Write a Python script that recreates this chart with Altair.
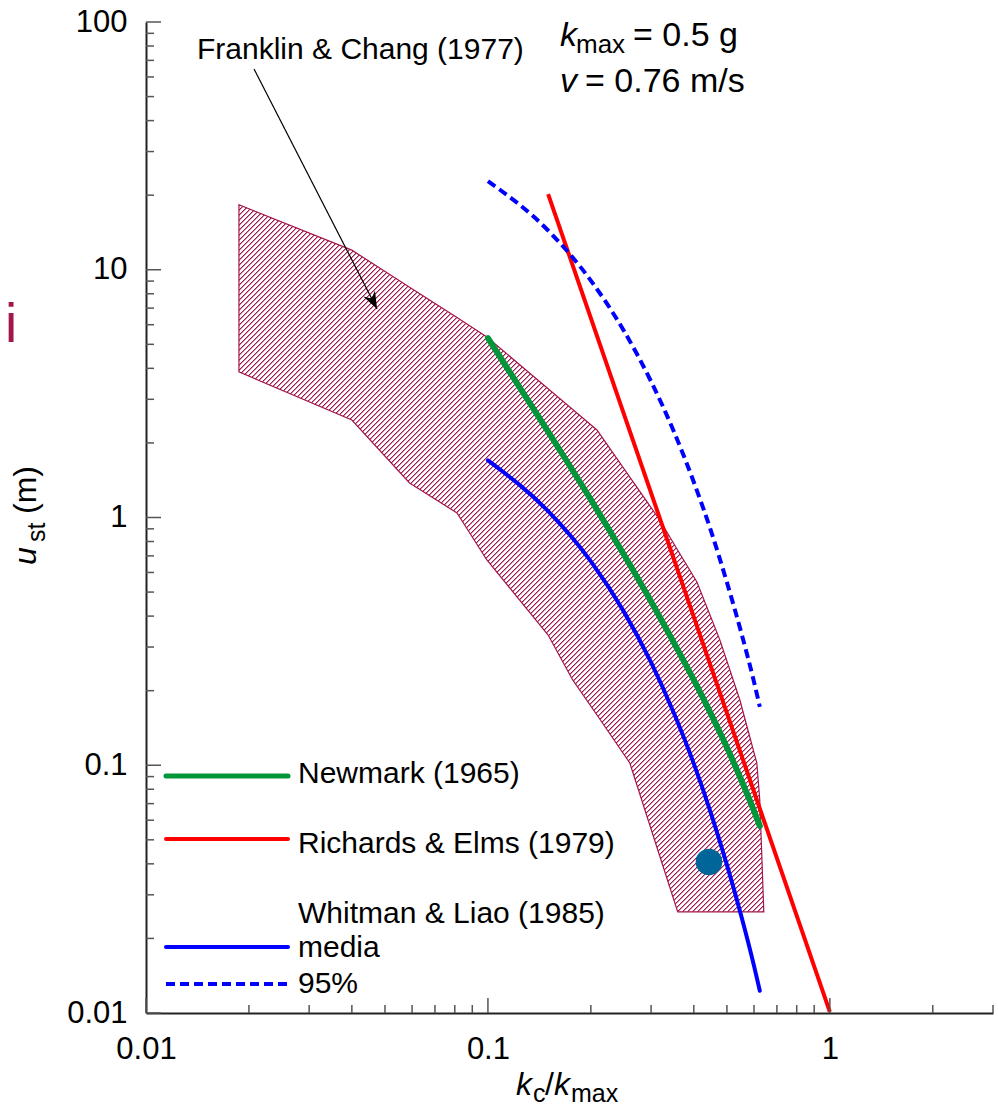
import math
import altair as alt
import pandas as pd

# ---------------- data ----------------
# Franklin & Chang (1977) band (upper and lower boundaries)
band_kc = [0.0187, 0.040, 0.059, 0.0812, 0.0993, 0.150, 0.177, 0.2084, 0.260,
           0.318, 0.359, 0.4085, 0.477, 0.5455, 0.6115, 0.6238, 0.641]
band_top = [18.3, 12.0, 8.5, 6.41, 5.35, 3.31, 2.73, 2.255, 1.456,
            0.977, 0.738, 0.549, 0.320, 0.1834, 0.1021, 0.0724, 0.0256]
band_bot = [3.87, 2.475, 1.378, 1.043, 0.674, 0.3355, 0.221, 0.1595, 0.1021,
            0.043, 0.0256, 0.0256, 0.0256, 0.0256, 0.0256, 0.0256, 0.0256]

curve_kc = [0.1, 0.15, 0.2, 0.25, 0.3, 0.35, 0.4, 0.45, 0.5, 0.55, 0.6, 0.624]
newmark_u = [5.30, 2.22, 1.18, 0.707, 0.458, 0.312, 0.221, 0.160, 0.118, 0.0876, 0.0654, 0.0569]
wl_median_u = [1.70, 1.06, 0.665, 0.416, 0.260, 0.162, 0.1015, 0.0634, 0.0396, 0.0248, 0.0155, 0.0123]
wl_95_u = [22.8, 14.4, 9.04, 5.66, 3.54, 2.22, 1.39, 0.875, 0.547, 0.345, 0.217, 0.172]

re_kc = [0.15, 1.0]
re_u = [20.2, 0.0101]

obs_kc = [0.443]
obs_u = [0.0407]

arrow_kc = [0.0207, 0.0474]
arrow_u = [64.6, 6.94]
arrow_end = ["start", "tip"]

# axis ticks / labels
x_major = [0.01, 0.1, 1]
x_minor = [0.02, 0.03, 0.04, 0.05, 0.06, 0.07, 0.08, 0.09,
           0.2, 0.3, 0.4, 0.5, 0.6, 0.7, 0.8, 0.9, 2, 3]
y_major = [0.01, 0.1, 1, 10, 100]
y_minor = [0.02, 0.03, 0.04, 0.05, 0.06, 0.07, 0.08, 0.09,
           0.2, 0.3, 0.4, 0.5, 0.6, 0.7, 0.8, 0.9,
           2, 3, 4, 5, 6, 7, 8, 9, 20, 30, 40, 50, 60, 70, 80, 90]

legend_labels = ["Newmark (1965)", "Richards & Elms (1979)", "Whitman & Liao (1985)", "media", "95%"]

# ---------------- styling ----------------
FONT = "Liberation Sans"
CRIMSON = "#A3154B"
CRIMSON_SOFT = "#D68AA6"
GREEN = "#009639"
RED = "#FF0000"
BLUE = "#0000FF"
DOT = "#006699"
W, H = 847, 991
X_DOM = [0.01, 3]
Y_DOM = [0.01, 100]

# ---- diagonal hatch as a striped linear gradient aligned to the pixel grid ----
# gradient runs in bounding-box units; chosen so that t = (X + Y - x0 - y0) / (bw + bh)
def _px(v, dom, size):
    return size * math.log10(v / dom[0]) / math.log10(dom[1] / dom[0])

bw = _px(max(band_kc), X_DOM, W) - _px(min(band_kc), X_DOM, W)
bh = _px(max(band_top), Y_DOM, H) - _px(min(band_bot), Y_DOM, H)
D = bw + bh
s = D / (bw ** 2 + bh ** 2)
PERIOD = 5.0
# (width in x+y pixel units, colour) segments of one hatch period
SEGMENTS = [(1.0, CRIMSON), (1.0, CRIMSON_SOFT), (3.0, "#ffffff")]
stops = []
k = 0
while PERIOD * k / D < 1:
    pos = PERIOD * k
    for w_seg, col in SEGMENTS:
        a = min(pos / D, 1)
        b = min((pos + w_seg) / D, 1)
        stops += [{"offset": round(a, 7), "color": col}, {"offset": round(b, 7), "color": col}]
        pos += w_seg
    k += 1
hatch = {"gradient": "linear", "x1": 0, "y1": 0,
         "x2": round(bw * s, 6), "y2": round(bh * s, 6), "stops": stops}

xs = alt.Scale(type="log", domain=X_DOM, nice=False)
ys = alt.Scale(type="log", domain=Y_DOM, nice=False)

xaxis = alt.Axis(values=x_major, format="~g", title=None, ticks=False, grid=False,
                 domainColor="#222222", domainWidth=2, labelFont=FONT, labelFontSize=31,
                 labelColor="black", labelPadding=21, labelFlush=False, labelOverlap=False)
yaxis = alt.Axis(values=y_major, format="~g", title=None, ticks=False, grid=False,
                 domainColor="#222222", domainWidth=2, labelFont=FONT, labelFontSize=31,
                 labelColor="black", labelPadding=19, labelFlush=False, labelOverlap=False)


def X(f):
    return alt.X(f, type="quantitative", scale=xs, axis=xaxis)


def Y(f):
    return alt.Y(f, type="quantitative", scale=ys, axis=yaxis)


band_df = pd.DataFrame({"kc": band_kc, "top": band_top, "bot": band_bot})
curves_df = pd.DataFrame({"kc": curve_kc, "newmark": newmark_u,
                          "median": wl_median_u, "p95": wl_95_u})
re_df = pd.DataFrame({"kc": re_kc, "u": re_u})
obs_df = pd.DataFrame({"kc": obs_kc, "u": obs_u})
arrow_df = pd.DataFrame({"kc": arrow_kc, "u": arrow_u, "end": arrow_end})

band = alt.Chart(band_df).mark_area(
    fill=hatch, stroke=CRIMSON, strokeWidth=1.2, interpolate="linear"
).encode(x=X("kc"), y=Y("top"), y2="bot:Q")

green = alt.Chart(curves_df).mark_line(color=GREEN, strokeWidth=6, strokeCap="round",
                                       interpolate="monotone").encode(x=X("kc"), y=Y("newmark"))
blue = alt.Chart(curves_df).mark_line(color=BLUE, strokeWidth=4, strokeCap="round",
                                      interpolate="monotone").encode(x=X("kc"), y=Y("median"))
dashed = alt.Chart(curves_df).mark_line(color=BLUE, strokeWidth=4, strokeDash=[9, 5],
                                        interpolate="monotone").encode(x=X("kc"), y=Y("p95"))
red = alt.Chart(re_df).mark_line(color=RED, strokeWidth=4).encode(x=X("kc"), y=Y("u"))
obs = alt.Chart(obs_df).mark_circle(color=DOT, size=707, opacity=1).encode(x=X("kc"), y=Y("u"))

arrow_line = alt.Chart(arrow_df).mark_line(color="black", strokeWidth=1.2).encode(
    x=X("kc"), y=Y("u"))
arrow_head = alt.Chart(arrow_df).transform_filter(alt.datum.end == "tip").mark_point(
    shape="M0,0 L0.55,1.45 L0,1.0 L-0.55,1.45 Z", size=576, angle=152.8,
    filled=True, color="black", opacity=1, strokeWidth=0
).encode(x=X("kc"), y=Y("u"))

# axis ticks drawn inward
yt_major = alt.Chart(pd.DataFrame({"v": y_major})).mark_rule(color="#555555", strokeWidth=1.5).encode(
    y=Y("v"), x=alt.value(0), x2=alt.value(15))
yt_minor = alt.Chart(pd.DataFrame({"v": y_minor})).mark_rule(color="#555555", strokeWidth=1.5).encode(
    y=Y("v"), x=alt.value(0), x2=alt.value(8))
xt_major = alt.Chart(pd.DataFrame({"v": x_major})).mark_rule(color="#555555", strokeWidth=1.5).encode(
    x=X("v"), y=alt.value(H), y2=alt.value(H - 15))
xt_minor = alt.Chart(pd.DataFrame({"v": x_minor})).mark_rule(color="#555555", strokeWidth=1.5).encode(
    x=X("v"), y=alt.value(H), y2=alt.value(H - 8))


def txt(s, x, y, size=30, style="normal", color="black", angle=0):
    kw = dict(font=FONT, fontSize=size, fontStyle=style, color=color, align="left",
              baseline="alphabetic")
    if angle:
        kw["angle"] = angle
    return alt.Chart(pd.DataFrame({"t": [s]})).mark_text(**kw).encode(
        text="t:N", x=alt.value(x), y=alt.value(y))


def leg_line(y, color, width, dash=None):
    kw = dict(color=color, strokeWidth=width, strokeCap="round" if dash is None else "butt")
    if dash:
        kw["strokeDash"] = dash
    return alt.Chart(pd.DataFrame({"k": [0]})).mark_rule(**kw).encode(
        x=alt.value(20), x2=alt.value(142), y=alt.value(y))


texts = [
    txt("Franklin & Chang (1977)", 51, 37),
    # k_max = 0.5 g
    txt("k", 414, 24, 34, "italic"),
    txt("max", 430, 31, 26),
    txt("= 0.5 g", 487, 24, 34),
    # v = 0.76 m/s
    txt("v", 414, 70, 34, "italic"),
    txt("= 0.76 m/s", 439, 70, 34),
    # x title kc/kmax
    txt("k", 370, 1073, 32, "italic"),
    txt("c", 387, 1080, 25),
    txt("/", 399, 1073, 32),
    txt("k", 408, 1073, 32, "italic"),
    txt("max", 425, 1080, 25),
    # y title u_st (m)
    txt("u", -110, 543, 32, "italic", angle=270),
    txt("st", -101, 520, 25, angle=270),
    txt("(m)", -110, 492, 32, angle=270),
    # stray glyph at left edge
    txt("i", -141, 320, 55, color=CRIMSON),
    # legend labels
    txt(legend_labels[0], 152, 761),
    txt(legend_labels[1], 152, 831),
    txt(legend_labels[2], 152, 901),
    txt(legend_labels[3], 152, 935),
    txt(legend_labels[4], 152, 971),
]

legend_lines = [
    leg_line(754, GREEN, 5),
    leg_line(817, RED, 4),
    leg_line(925, BLUE, 4),
    leg_line(962, BLUE, 4, [9, 5]),
]

chart = alt.layer(
    band, obs, red, green, blue, dashed, arrow_line, arrow_head,
    yt_major, yt_minor, xt_major, xt_minor, *legend_lines, *texts
).properties(
    width=W, height=H,
    padding={"left": 146, "top": 22, "right": 5, "bottom": 94},
    autosize=alt.AutoSizeParams(type="none"),
).configure_view(stroke=None)

chart.save("out.html", embed_options={"renderer": "svg", "actions": False})
